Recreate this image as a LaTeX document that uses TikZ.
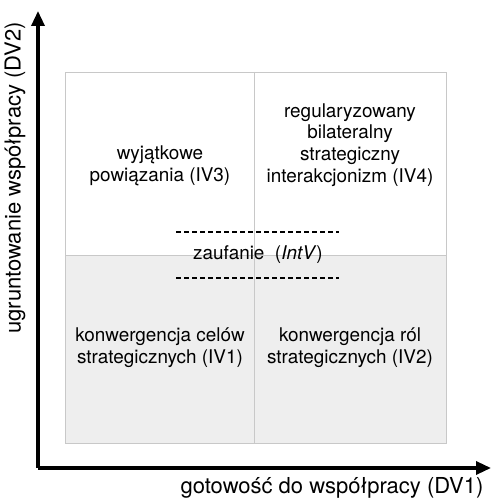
\documentclass[tikz,border=0pt]{standalone}
\usepackage{fontspec}
\setmainfont{TeX Gyre Heros}
\usetikzlibrary{arrows.meta}

\definecolor{cellgray}{HTML}{EEEEEE}
\definecolor{gridgray}{HTML}{C8C8C8}

\tikzset{
  quadtext/.style={align=center, font=\fontsize{18.9}{21.7}\selectfont, inner sep=0pt},
  axislabel/.style={font=\fontsize{22}{24}\selectfont, inner sep=0pt},
  axisline/.style={line width=3.3pt, -{Triangle[length=15pt,width=13pt]}},
  gridline/.style={draw=gridgray, line width=0.9pt},
  trustline/.style={line width=1.2pt, dash pattern=on 4.6pt off 3.4pt}
}

\begin{document}
\begin{tikzpicture}[x=1pt, y=1pt, line join=miter]
  \useasboundingbox (0,0) rectangle (491,498);

  \coordinate (A) at (65,426);
  \coordinate (B) at (446,426);
  \coordinate (C) at (446,55);
  \coordinate (D) at (65,55);
  \coordinate (M) at (254,243);

  % lower half shaded
  \fill[cellgray] (D) rectangle (B |- M);

  % grid
  \draw[gridline] (A)--(B)--(C)--(D)--cycle;
  \draw[gridline] (A |- M)--(B |- M);
  \draw[gridline] (M |- A)--(M |- C);

  % axes
  \coordinate (O) at (38,30);
  \coordinate (Ytip) at (38,487);
  \coordinate (Xtip) at (491,30);
  \draw[axisline] (O) -- (Ytip);
  \draw[axisline] (O) -- (Xtip);

  % trust band
  \coordinate (T1) at (176,266);
  \coordinate (T2) at (339,266);
  \coordinate (T3) at (176,220);
  \coordinate (T4) at (339,220);
  \draw[trustline] (T1)--(T2);
  \draw[trustline] (T3)--(T4);

  \node[quadtext] (trust) at (258,243) {zaufanie\ \ (\textit{IntV})};

  \node[quadtext] (iv3) at (160,332) {wyjątkowe\\powiązania (IV3)};
  \node[quadtext] (iv4) at (350,353) {regularyzowany\\bilateralny\\strategiczny\\interakcjonizm (IV4)};
  \node[quadtext] (iv1) at (160,150) {konwergencja celów\\strategicznych (IV1)};
  \node[quadtext] (iv2) at (350,150) {konwergencja ról\\strategicznych (IV2)};

  \node[axislabel, rotate=90] (dv2) at (15,320) {ugruntowanie współpracy (DV2)};
  \node[axislabel] (dv1) at (332,10) {gotowość do współpracy (DV1)};
\end{tikzpicture}
\end{document}
